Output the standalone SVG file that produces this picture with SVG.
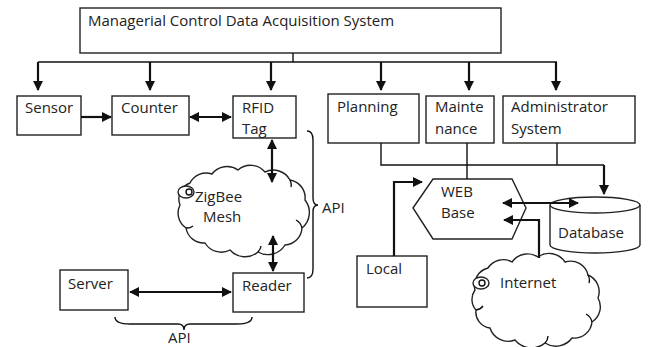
<svg xmlns="http://www.w3.org/2000/svg" width="648" height="347" viewBox="0 0 648 347">
<defs>
<style>
.box{fill:#fff;stroke:#222;stroke-width:1.4}
.ln{fill:none;stroke:#111;stroke-width:1.4}
.ar{fill:none;stroke:#111;stroke-width:2.2}
.t{font-family:"Open Sans","Liberation Sans",sans-serif;font-size:15px;fill:#222}
</style>
<marker id="ah" viewBox="0 0 10 10" refX="9" refY="5" markerWidth="10" markerHeight="10" markerUnits="userSpaceOnUse" orient="auto-start-reverse">
<path d="M0,0 L10,5 L0,10 z" fill="#111"/>
</marker>
</defs>
<rect width="648" height="347" fill="#fff"/>

<g id="top"><rect class="box" x="80" y="8" width="421" height="45"/><text class="t" x="88" y="26">Managerial Control Data Acquisition System</text></g>
<g id="sensor"><rect class="box" x="17" y="96" width="64" height="39"/><text class="t" x="25" y="113">Sensor</text></g>
<g id="counter"><rect class="box" x="112" y="96" width="77" height="39"/><text class="t" x="121" y="113">Counter</text></g>
<g id="rfid"><rect class="box" x="233" y="96" width="63" height="42"/><text class="t" x="242" y="113">RFID</text><text class="t" x="242" y="134">Tag</text></g>
<g id="planning"><rect class="box" x="328" y="94" width="91" height="49"/><text class="t" x="337" y="112">Planning</text></g>
<g id="maintenance"><rect class="box" x="426" y="96" width="68" height="47"/><text class="t" x="435" y="112">Mainte</text><text class="t" x="435" y="134">nance</text></g>
<g id="admin"><rect class="box" x="503" y="96" width="132" height="47"/><text class="t" x="511" y="112">Administrator</text><text class="t" x="511" y="134">System</text></g>
<g id="web"><polygon class="box" points="413,208 433,179 512,179 526,208 512,239 433,239"/><text class="t" x="441" y="197">WEB</text><text class="t" x="441" y="218">Base</text></g>
<g id="database"><path class="box" d="M550,205 L550,245 A45,8 0 0 0 640,245 L640,205"/><ellipse class="box" cx="595" cy="205" rx="45" ry="8"/><text class="t" x="558" y="238">Database</text></g>
<g id="local"><rect class="box" x="357" y="256" width="70" height="51"/><text class="t" x="366" y="274">Local</text></g>
<g id="server"><rect class="box" x="60" y="270" width="68" height="40"/><text class="t" x="68" y="289">Server</text></g>
<g id="reader"><rect class="box" x="233" y="273" width="71" height="39"/><text class="t" x="242" y="291">Reader</text></g>
<g id="zigbee">
<path class="box" d="M180,205 A17,17 0 0 1 190,183 A18,18 0 0 1 212,174 A19,19 0 0 1 238,170 A19,19 0 0 1 265,172 A19,19 0 0 1 290,180 A18,18 0 0 1 305,200 A20,20 0 0 1 302,228 A18,18 0 0 1 285,245 A20,20 0 0 1 258,252 A20,20 0 0 1 230,250 A19,19 0 0 1 205,243 A18,18 0 0 1 186,228 A18,18 0 0 1 180,205 z"/>
<path class="ln" d="M186,228 A10,10 0 0 0 193,226 M290,180 A10,10 0 0 1 291,187 M302,228 A12,12 0 0 0 296,220 M258,252 A10,10 0 0 0 261,246"/>
<ellipse class="box" cx="186" cy="192" rx="8" ry="6"/><circle class="ln" cx="189" cy="192" r="3"/>
<text class="t" x="195" y="202">ZigBee</text><text class="t" x="203" y="222">Mesh</text>
</g>
<g id="internet">
<path class="box" d="M475,290 A18,18 0 0 1 488,268 A18,18 0 0 1 512,262 A19,19 0 0 1 538,257 A19,19 0 0 1 565,262 A18,18 0 0 1 588,275 A18,18 0 0 1 598,298 A18,18 0 0 1 592,322 A18,18 0 0 1 572,338 A20,20 0 0 1 545,343 A21,21 0 0 1 515,340 A19,19 0 0 1 490,328 A16,16 0 0 1 476,310 A16,16 0 0 1 475,290 z"/>
<path class="ln" d="M476,310 A10,10 0 0 0 483,306 M588,275 A10,10 0 0 1 589,283 M592,322 A12,12 0 0 0 586,314 M545,343 A10,10 0 0 0 548,336"/>
<ellipse class="box" cx="481" cy="283" rx="8" ry="6"/><circle class="ln" cx="482" cy="283" r="3"/>
<text class="t" x="500" y="288">Internet</text>
</g>

<g id="connectors">
<path class="ln" d="M293,53 V62 M38,62 H557"/>
<path class="ar" marker-end="url(#ah)" d="M38,62 V90"/>
<path class="ar" marker-end="url(#ah)" d="M150,62 V90"/>
<path class="ar" marker-end="url(#ah)" d="M271,62 V90"/>
<path class="ar" marker-end="url(#ah)" d="M381,62 V90"/>
<path class="ar" marker-end="url(#ah)" d="M469,62 V90"/>
<path class="ar" marker-end="url(#ah)" d="M556,62 V90"/>
<path class="ar" marker-end="url(#ah)" d="M81,117 H111"/>
<path class="ar" marker-start="url(#ah)" marker-end="url(#ah)" d="M190,117 H231"/>
<path class="ar" marker-start="url(#ah)" marker-end="url(#ah)" d="M272,140 V182"/>
<path class="ar" marker-start="url(#ah)" marker-end="url(#ah)" d="M273,236 V271"/>
<path class="ar" marker-start="url(#ah)" marker-end="url(#ah)" d="M130,292 H231"/>
<path class="ln" d="M381,143 V165 H604 M467,143 V179 M557,143 V165"/>
<path class="ar" marker-end="url(#ah)" d="M604,165 V194"/>
<path class="ar" marker-start="url(#ah)" marker-end="url(#ah)" d="M503,203 H578"/>
<path class="ar" marker-end="url(#ah)" d="M539,258 V220 H504"/>
<path class="ar" marker-end="url(#ah)" d="M394,256 V182 H422"/>
<path class="ln" d="M115,317 Q115,324 130,324 L178,324 Q184,324 184,330 Q184,324 190,324 L237,324 Q252,324 252,317"/>
<path class="ln" d="M307,131 Q313,131 313,140 L313,198 Q313,205 318,205 Q313,205 313,212 L313,269 Q313,278 307,278"/>
<text class="t" x="322" y="213">API</text>
<text class="t" x="168" y="343">API</text>
</g>
</svg>
